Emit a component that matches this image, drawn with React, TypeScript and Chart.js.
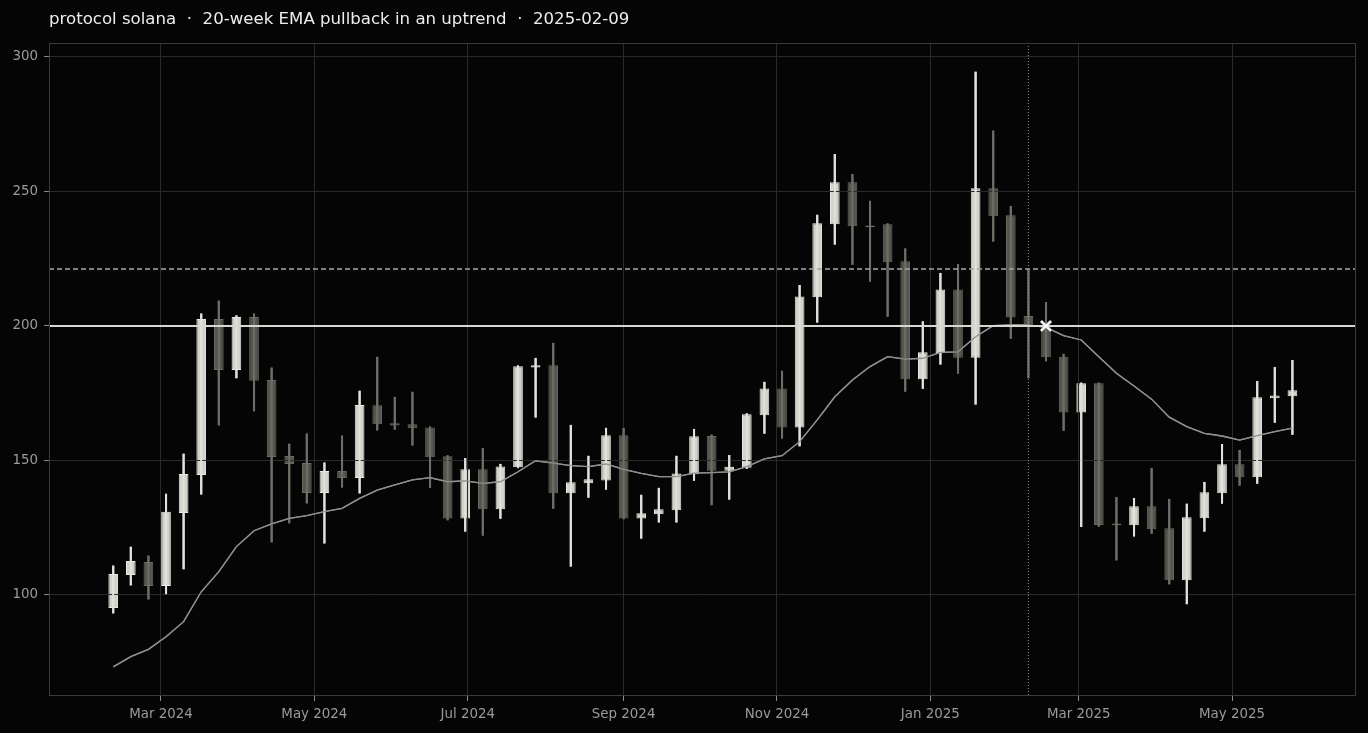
import { useEffect, useRef } from "react";
import { Chart, registerables } from "chart.js";

Chart.register(...registerables);

const TITLE = "protocol solana  ·  20-week EMA pullback in an uptrend  ·  2025-02-09";

const WEEKS = [
  "2024-02-11", "2024-02-18", "2024-02-25", "2024-03-03", "2024-03-10", "2024-03-17", "2024-03-24", "2024-03-31",
  "2024-04-07", "2024-04-14", "2024-04-21", "2024-04-28", "2024-05-05", "2024-05-12", "2024-05-19", "2024-05-26",
  "2024-06-02", "2024-06-09", "2024-06-16", "2024-06-23", "2024-06-30", "2024-07-07", "2024-07-14", "2024-07-21",
  "2024-07-28", "2024-08-04", "2024-08-11", "2024-08-18", "2024-08-25", "2024-09-01", "2024-09-08", "2024-09-15",
  "2024-09-22", "2024-09-29", "2024-10-06", "2024-10-13", "2024-10-20", "2024-10-27", "2024-11-03", "2024-11-10",
  "2024-11-17", "2024-11-24", "2024-12-01", "2024-12-08", "2024-12-15", "2024-12-22", "2024-12-29", "2025-01-05",
  "2025-01-12", "2025-01-19", "2025-01-26", "2025-02-02", "2025-02-09", "2025-02-16", "2025-02-23", "2025-03-02",
  "2025-03-09", "2025-03-16", "2025-03-23", "2025-03-30", "2025-04-06", "2025-04-13", "2025-04-20", "2025-04-27",
  "2025-05-04", "2025-05-11", "2025-05-18", "2025-05-25",
];

const OPEN = [
  95.2, 107.4, 112.3, 103.3, 130.5, 144.6, 202.6, 183.6, 203.3, 179.9, 151.7, 149.1, 137.9, 146.1, 143.5, 170.5,
  163.8, 163.5, 162.3, 151.6, 128.4, 146.7, 131.9, 147.5, 184.6, 185.4, 137.8, 141.5, 142.6, 159.4, 128.4, 130.0,
  131.5, 144.9, 159.1, 146.2, 147.3, 166.8, 176.8, 162.3, 210.7, 237.8, 253.4, 237.4, 237.8, 224.1, 180.2, 189.9,
  213.6, 188.2, 251.2, 241.2, 203.7, 199.7, 188.6, 167.8, 178.7, 126.6, 125.9, 133.0, 124.8, 105.5, 128.5, 137.8,
  148.6, 143.8, 173.1, 173.9,
];

const HIGH = [
  110.8, 117.8, 114.5, 137.5, 152.4, 204.5, 209.3, 203.8, 204.5, 184.4, 156.1, 159.9, 149.1, 159.1, 175.8, 188.4,
  173.5, 175.4, 162.5, 151.8, 150.8, 154.5, 148.6, 185.2, 188.0, 193.6, 163.1, 151.6, 162.0, 162.0, 137.1, 139.7,
  151.6, 161.6, 159.5, 151.9, 167.4, 179.1, 183.2, 215.1, 241.2, 263.8, 256.4, 246.4, 238.0, 228.7, 201.6, 219.6,
  222.9, 294.4, 272.5, 244.5, 220.8, 208.8, 189.5, 178.8, 178.8, 136.3, 135.9, 147.1, 135.6, 133.8, 141.9, 156.0,
  153.8, 179.4, 184.6, 187.2,
];

const LOW = [
  93.3, 103.7, 98.5, 100.4, 109.7, 137.5, 163.2, 180.7, 168.4, 119.7, 126.8, 134.2, 119.3, 140.1, 137.9, 161.3,
  161.6, 155.7, 140.0, 127.9, 123.7, 122.2, 128.5, 147.3, 166.1, 132.2, 110.7, 136.3, 139.3, 128.3, 121.1, 127.1,
  127.1, 142.6, 133.5, 135.6, 147.0, 160.1, 158.3, 155.4, 201.4, 230.4, 222.9, 216.6, 203.6, 175.7, 176.8, 185.8,
  182.4, 170.9, 231.5, 195.4, 180.7, 187.0, 161.2, 125.4, 125.5, 113.0, 121.9, 122.9, 104.1, 96.7, 123.7, 134.1,
  140.8, 141.5, 164.2, 159.7,
];

const CLOSE = [
  107.8, 112.6, 103.3, 130.9, 145.0, 202.6, 183.6, 203.3, 179.6, 151.3, 148.7, 137.9, 146.1, 143.5, 170.6, 163.5,
  163.0, 162.0, 151.2, 128.4, 146.7, 131.9, 147.8, 185.0, 185.4, 137.8, 141.9, 143.0, 159.4, 128.4, 130.4, 131.9,
  145.2, 159.0, 146.2, 147.7, 167.2, 176.8, 162.3, 211.0, 238.2, 253.4, 237.1, 236.7, 223.7, 180.2, 190.2, 213.6,
  188.2, 251.2, 240.8, 203.2, 200.6, 188.4, 167.8, 178.7, 126.0, 125.9, 133.0, 124.4, 105.5, 128.9, 138.2, 148.6,
  143.8, 173.5, 174.2, 176.1,
];

const EMA20 = [
  73.3, 77.1, 79.8, 84.5, 90.1, 101.2, 108.7, 118.0, 123.9, 126.4, 128.5, 129.5, 131.0, 132.2, 135.9, 139.0,
  140.9, 142.8, 143.6, 142.1, 142.4, 141.5, 142.1, 145.8, 149.9, 149.0, 148.1, 147.7, 148.7, 146.7, 145.2, 144.0,
  144.0, 145.3, 145.5, 145.8, 147.7, 150.6, 151.8, 157.0, 165.1, 173.7, 179.9, 184.9, 188.6, 187.7, 188.0, 190.2,
  190.4, 196.0, 200.1, 200.4, 200.4, 199.5, 196.4, 194.8, 188.6, 182.4, 177.7, 172.8, 166.1, 162.6, 160.1, 159.1,
  157.6, 159.2, 160.7, 162.0,
];

const Y_TICKS = [100, 150, 200, 250, 300];
const X_TICK_DATES = [
  "2024-03-01", "2024-05-01", "2024-07-01", "2024-09-01",
  "2024-11-01", "2025-01-01", "2025-03-01", "2025-05-01",
];
const X_TICK_LABELS = [
  "Mar 2024", "May 2024", "Jul 2024", "Sep 2024",
  "Nov 2024", "Jan 2025", "Mar 2025", "May 2025",
];

const ENTRY_LEVEL = 200;
const UPPER_LEVEL = 221.2;
const SIGNAL_DATE = "2025-02-09";
const ENTRY_DATE = "2025-02-16";

const X_MIN = "2024-01-16T11:00:00Z";
const X_MAX = "2025-06-19T07:00:00Z";
const Y_MIN = 62.45;
const Y_MAX = 305.2;

const FONT = '"DejaVu Sans", "Liberation Sans", sans-serif';
const BG = "#050505";
const UP_FILL = "#d3d3cb";
const UP_EDGE = "#ebebe5";
const DOWN_FILL = "#56564f";
const DOWN_EDGE = "#6b6b64";
const UP_WICK = "#e2e2dc";
const DOWN_WICK = "#6e6e67";

const ts = (s: string) => Date.parse(s.length === 10 ? s + "T00:00:00Z" : s);
const isUp = (i: number) => CLOSE[i] >= OPEN[i];

const overlay = {
  id: "overlay",
  afterDraw(chart: any) {
    const { ctx, chartArea: a, scales } = chart;
    const xs = scales.x;
    const ys = scales.y;
    ctx.save();
    ctx.beginPath();
    ctx.rect(a.left, a.top, a.right - a.left, a.bottom - a.top);
    ctx.clip();
    // wicks and EMA above the grid
    chart.getDatasetMeta(1).controller.draw();
    chart.getDatasetMeta(2).controller.draw();

    // upper dashed level
    const yU = ys.getPixelForValue(UPPER_LEVEL);
    ctx.beginPath();
    ctx.setLineDash([5, 3]);
    ctx.strokeStyle = "#a5a5a5";
    ctx.lineWidth = 1.4;
    ctx.moveTo(a.left, yU);
    ctx.lineTo(a.right, yU);
    ctx.stroke();

    // signal date dotted vertical
    const xS = xs.getPixelForValue(ts(SIGNAL_DATE));
    ctx.beginPath();
    ctx.setLineDash([1, 2]);
    ctx.strokeStyle = "#8a8a8a";
    ctx.lineWidth = 1;
    ctx.moveTo(xS, a.top);
    ctx.lineTo(xS, a.bottom);
    ctx.stroke();

    // entry solid level
    const yE = ys.getPixelForValue(ENTRY_LEVEL);
    ctx.beginPath();
    ctx.setLineDash([]);
    ctx.strokeStyle = "#d6d6d2";
    ctx.lineWidth = 2;
    ctx.moveTo(a.left, yE);
    ctx.lineTo(a.right, yE);
    ctx.stroke();

    chart.getDatasetMeta(3).controller.draw();
    ctx.restore();

    // frame
    ctx.save();
    ctx.strokeStyle = "#3a3a3a";
    ctx.lineWidth = 1;
    ctx.strokeRect(a.left + 0.5, a.top + 0.5, a.right - a.left - 1, a.bottom - a.top - 1);
    ctx.restore();

    // title
    ctx.save();
    ctx.fillStyle = "#ededed";
    ctx.font = `16.6px ${FONT}`;
    ctx.textAlign = "left";
    ctx.textBaseline = "middle";
    ctx.fillText(TITLE, a.left, 20);
    ctx.restore();
  },
};

export default function App() {
  const ref = useRef<HTMLCanvasElement | null>(null);

  useEffect(() => {
    if (!ref.current) return;
    const chart = new Chart(ref.current, {
      type: "bar",
      data: {
        datasets: [
          {
            type: "bar",
            label: "body",
            data: WEEKS.map((w, i) => ({ x: ts(w), y: [OPEN[i], CLOSE[i]] })) as any,
            backgroundColor: (c: any) => (isUp(c.dataIndex) ? UP_FILL : DOWN_FILL),
            borderColor: (c: any) => (isUp(c.dataIndex) ? UP_EDGE : DOWN_EDGE),
            borderWidth: 1,
            borderSkipped: false,
            grouped: false,
            categoryPercentage: 1,
            barPercentage: 0.55,
          } as any,
          {
            type: "bar",
            label: "wick",
            data: WEEKS.map((w, i) => ({ x: ts(w), y: [LOW[i], HIGH[i]] })) as any,
            backgroundColor: (c: any) => (isUp(c.dataIndex) ? UP_WICK : DOWN_WICK),
            borderWidth: 0,
            grouped: false,
            barThickness: 1.4,
          } as any,
          {
            type: "line",
            label: "EMA 20",
            data: WEEKS.map((w, i) => ({ x: ts(w), y: EMA20[i] })) as any,
            borderColor: "#8e8e8e",
            borderWidth: 1.3,
            pointRadius: 0,
            fill: false,
            tension: 0,
          } as any,
          {
            type: "scatter",
            label: "entry",
            data: [{ x: ts(ENTRY_DATE), y: ENTRY_LEVEL }] as any,
            pointStyle: "crossRot",
            pointRadius: 7,
            borderColor: "#f4f4f4",
            backgroundColor: "#f4f4f4",
            borderWidth: 2.5,
          } as any,
        ],
      },
      options: {
        animation: false,
        responsive: true,
        maintainAspectRatio: false,
        events: [],
        layout: { padding: { top: 43, right: 12, left: 0, bottom: 0 } },
        plugins: {
          legend: { display: false },
          tooltip: { enabled: false },
          title: { display: false },
        },
        scales: {
          x: {
            type: "linear",
            min: ts(X_MIN),
            max: ts(X_MAX),
            offset: false,
            afterBuildTicks: (s: any) => {
              s.ticks = X_TICK_DATES.map((d) => ({ value: ts(d) }));
            },
            afterFit: (s: any) => {
              s.height = 37;
            },
            ticks: {
              callback: (_v: any, i: number) => X_TICK_LABELS[i],
              color: "#9a9a9a",
              font: { family: FONT, size: 13.4 },
              padding: 5,
              maxRotation: 0,
              autoSkip: false,
            },
            grid: {
              offset: false,
              color: "#2a2a2a",
              tickColor: "#8a8a8a",
              tickLength: 5,
              lineWidth: 1,
              z: 1,
            },
            border: { display: false },
          } as any,
          y: {
            type: "linear",
            min: Y_MIN,
            max: Y_MAX,
            beginAtZero: false,
            afterBuildTicks: (s: any) => {
              s.ticks = Y_TICKS.map((v) => ({ value: v }));
            },
            afterFit: (s: any) => {
              s.width = 49;
            },
            ticks: {
              callback: (v: any) => String(v),
              color: "#9a9a9a",
              font: { family: FONT, size: 13.4 },
              padding: 6,
            },
            grid: {
              color: "#2a2a2a",
              tickColor: "#8a8a8a",
              tickLength: 5,
              lineWidth: 1,
              z: 1,
            },
            border: { display: false },
          } as any,
        },
      },
      plugins: [overlay],
    });
    return () => chart.destroy();
  }, []);

  return (
    <div
      style={{
        position: "fixed",
        left: 0,
        top: 0,
        width: "1368px",
        height: "733px",
        background: BG,
      }}
    >
      <canvas ref={ref} style={{ display: "block", width: "100%", height: "100%" }} />
    </div>
  );
}
